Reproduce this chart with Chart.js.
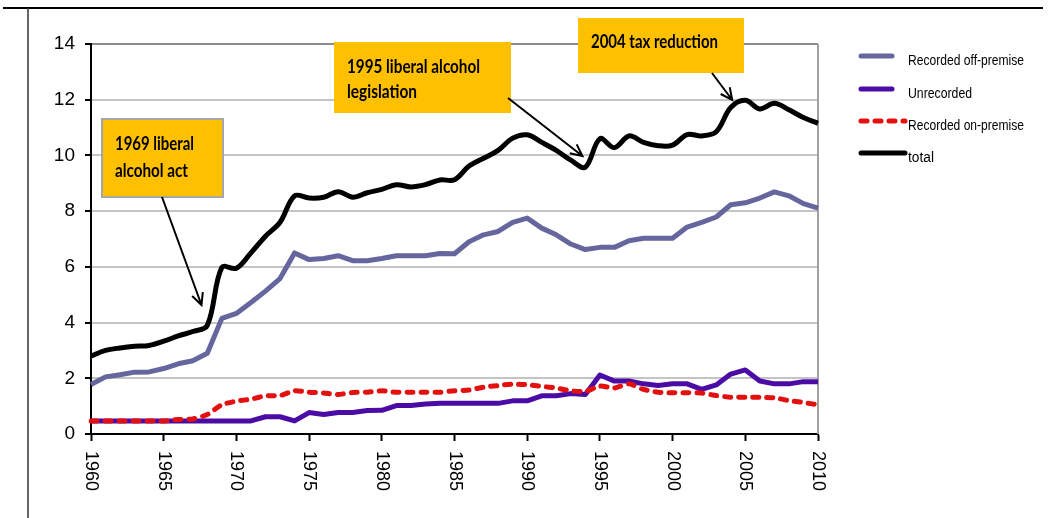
<!DOCTYPE html>
<html>
<head>
<meta charset="utf-8">
<script src="https://cdn.jsdelivr.net/npm/chart.js@4.4.1/dist/chart.umd.min.js"></script>
<style>
  html, body { margin: 0; padding: 0; background: #fff; }
  #chart { display: block; }
</style>
</head>
<body>
<canvas id="chart" width="1050" height="518"></canvas>
<script>
// --- data (litres pure alcohol per capita) ---
const years = [
  1960, 1961, 1962, 1963, 1964, 1965, 1966, 1967, 1968, 1969,
  1970, 1971, 1972, 1973, 1974, 1975, 1976, 1977, 1978, 1979,
  1980, 1981, 1982, 1983, 1984, 1985, 1986, 1987, 1988, 1989,
  1990, 1991, 1992, 1993, 1994, 1995, 1996, 1997, 1998, 1999,
  2000, 2001, 2002, 2003, 2004, 2005, 2006, 2007, 2008, 2009, 2010
];

const offPremise = [
  1.78, 2.05, 2.13, 2.22, 2.23, 2.35, 2.52, 2.63, 2.90, 4.15,
  4.33, 4.72, 5.13, 5.58, 6.50, 6.26, 6.30, 6.40, 6.22, 6.22,
  6.30, 6.40, 6.40, 6.40, 6.48, 6.47, 6.90, 7.15, 7.27, 7.60,
  7.75, 7.39, 7.15, 6.82, 6.62, 6.70, 6.70, 6.94, 7.03, 7.03,
  7.03, 7.43, 7.60, 7.79, 8.23, 8.30, 8.47, 8.69, 8.55, 8.27, 8.11
];

const unrecorded = [
  0.47, 0.47, 0.47, 0.47, 0.47, 0.47, 0.47, 0.47, 0.47, 0.47,
  0.47, 0.47, 0.62, 0.62, 0.47, 0.77, 0.70, 0.77, 0.77, 0.84,
  0.85, 1.02, 1.02, 1.08, 1.10, 1.10, 1.10, 1.10, 1.10, 1.19,
  1.19, 1.37, 1.37, 1.45, 1.42, 2.12, 1.90, 1.90, 1.80, 1.74,
  1.80, 1.80, 1.60, 1.76, 2.15, 2.30, 1.90, 1.80, 1.80, 1.88, 1.88
];

const onPremise = [
  0.47, 0.47, 0.47, 0.47, 0.47, 0.47, 0.52, 0.54, 0.70, 1.05,
  1.18, 1.25, 1.37, 1.38, 1.55, 1.50, 1.47, 1.42, 1.49, 1.50,
  1.55, 1.50, 1.50, 1.50, 1.50, 1.55, 1.58, 1.68, 1.74, 1.79,
  1.77, 1.71, 1.65, 1.55, 1.53, 1.72, 1.65, 1.80, 1.60, 1.50,
  1.48, 1.48, 1.47, 1.38, 1.32, 1.32, 1.32, 1.30, 1.20, 1.13, 1.05
];

const total = [
  2.80, 3.00, 3.09, 3.15, 3.18, 3.33, 3.52, 3.68, 3.90, 5.98,
  5.95, 6.50, 7.10, 7.60, 8.55, 8.47, 8.50, 8.70, 8.50, 8.66,
  8.78, 8.95, 8.87, 8.95, 9.12, 9.13, 9.62, 9.90, 10.18, 10.62,
  10.74, 10.47, 10.18, 9.83, 9.58, 10.60, 10.28, 10.70, 10.47, 10.35,
  10.37, 10.75, 10.70, 10.85, 11.72, 11.98, 11.67, 11.87, 11.64, 11.36, 11.15
];

const seriesNames = ['Recorded off-premise', 'Unrecorded', 'Recorded on-premise', 'total'];
const xTickLabels = ['1960', '1965', '1970', '1975', '1980', '1985', '1990', '1995', '2000', '2005', '2010'];

// callout boxes; the arrow tip is given in data units (year, value)
const notes = [
  { lines: ['1969 liberal', 'alcohol act'], tipYear: 1967.6, tipValue: 4.63 },
  { lines: ['1995 liberal alcohol', 'legislation'], tipYear: 1993.8, tipValue: 9.98 },
  { lines: ['2004 tax reduction'], tipYear: 2004.1, tipValue: 11.99 }
];

// --- layout of the callouts (pixels) ---
const noteLayout = [
  { box: [102, 119, 121, 78], border: true, textX: 115, base: [150, 177], widths: [79, 73], from: [162, 197] },
  { box: [334, 42, 177, 71], border: false, textX: 347, base: [73, 98], widths: [133, 70], from: [508, 98] },
  { box: [578, 18, 166, 55], border: false, textX: 591, base: [48], widths: [127], from: [712, 73] }
];

function fitText(ctx, text, x, y, width) {
  const w = ctx.measureText(text).width;
  ctx.save();
  ctx.translate(x, y);
  ctx.scale(width / w, 1);
  ctx.fillText(text, 0, 0);
  ctx.restore();
}

function arrow(ctx, x1, y1, x2, y2) {
  const ang = Math.atan2(y2 - y1, x2 - x1);
  const head = 13, spread = 0.45;
  ctx.beginPath();
  ctx.moveTo(x1, y1);
  ctx.lineTo(x2, y2);
  ctx.moveTo(x2 - head * Math.cos(ang - spread), y2 - head * Math.sin(ang - spread));
  ctx.lineTo(x2, y2);
  ctx.lineTo(x2 - head * Math.cos(ang + spread), y2 - head * Math.sin(ang + spread));
  ctx.stroke();
}

const decorPlugin = {
  id: 'decor',
  beforeDraw(chart) {
    const ctx = chart.ctx;
    ctx.save();
    ctx.fillStyle = '#fff';
    ctx.fillRect(0, 0, chart.width, chart.height);
    // frame lines around the figure
    ctx.strokeStyle = '#000';
    ctx.lineWidth = 2;
    ctx.beginPath();
    ctx.moveTo(3, 8);
    ctx.lineTo(1043, 8);
    ctx.stroke();
    ctx.strokeStyle = '#333';
    ctx.lineWidth = 1.5;
    ctx.beginPath();
    ctx.moveTo(28, 8);
    ctx.lineTo(28, 518);
    ctx.stroke();
    ctx.restore();
  },
  beforeDatasetsDraw(chart) {
    const ctx = chart.ctx;
    const a = chart.chartArea;
    ctx.save();
    ctx.strokeStyle = '#a0a0a0';
    ctx.lineWidth = 2;
    ctx.beginPath();
    ctx.moveTo(a.right, a.top);
    ctx.lineTo(a.right, a.bottom);
    ctx.stroke();
    ctx.restore();
  },
  afterDraw(chart) {
    const ctx = chart.ctx;
    const xs = chart.scales.x;
    const ys = chart.scales.y;
    ctx.save();

    // rotated year labels (reading top to bottom)
    ctx.fillStyle = '#000';
    ctx.font = '18px "Liberation Sans", Arial, sans-serif';
    ctx.textAlign = 'left';
    ctx.textBaseline = 'middle';
    xTickLabels.forEach(lbl => {
      const x = xs.getPixelForValue(years.indexOf(Number(lbl)));
      ctx.save();
      ctx.translate(x, 451);
      ctx.rotate(Math.PI / 2);
      ctx.fillText(lbl, 0, 0);
      ctx.restore();
    });

    // legend
    const legendY = [56, 89, 121, 153];
    const sampleLen = [31, 31, 44, 44];
    const textW = [116, 64, 116, 26];
    ctx.font = '14px "Liberation Sans", Arial, sans-serif';
    ctx.textBaseline = 'alphabetic';
    chart.data.datasets.forEach((ds, i) => {
      const y = legendY[i];
      ctx.save();
      ctx.strokeStyle = ds.borderColor;
      ctx.lineWidth = 5;
      ctx.lineCap = 'round';
      ctx.setLineDash(ds.borderDash || []);
      ctx.beginPath();
      ctx.moveTo(861, y);
      ctx.lineTo(861 + sampleLen[i], y);
      ctx.stroke();
      ctx.restore();
      ctx.fillStyle = '#000';
      fitText(ctx, ds.label, 908, y + 9, textW[i]);
    });

    // callouts
    notes.forEach((n, i) => {
      const L = noteLayout[i];
      const [bx, by, bw, bh] = L.box;
      ctx.fillStyle = '#ffc000';
      ctx.fillRect(bx, by, bw, bh);
      if (L.border) {
        ctx.strokeStyle = '#a6a6a6';
        ctx.lineWidth = 2;
        ctx.strokeRect(bx, by, bw, bh);
      }
      ctx.fillStyle = '#000';
      ctx.font = 'bold 19px Lato, "Open Sans", sans-serif';
      n.lines.forEach((t, k) => fitText(ctx, t, L.textX, L.base[k], L.widths[k]));

      const tx = xs.getPixelForValue(n.tipYear - years[0]);
      const ty = ys.getPixelForValue(n.tipValue);
      ctx.strokeStyle = '#000';
      ctx.lineWidth = 2;
      arrow(ctx, L.from[0], L.from[1], tx, ty);
    });

    ctx.restore();
  }
};

const ctx = document.getElementById('chart');
new Chart(ctx, {
  type: 'line',
  data: {
    labels: years,
    datasets: [
      {
        label: seriesNames[0],
        data: offPremise,
        borderColor: '#66669e',
        borderWidth: 5,
        tension: 0,
        order: 3
      },
      {
        label: seriesNames[1],
        data: unrecorded,
        borderColor: '#4b0ca6',
        borderWidth: 5,
        tension: 0,
        order: 2
      },
      {
        label: seriesNames[2],
        data: onPremise,
        borderColor: '#e2100f',
        borderWidth: 5,
        borderDash: [6, 8],
        borderCapStyle: 'round',
        tension: 0.2,
        order: 1
      },
      {
        label: seriesNames[3],
        data: total,
        borderColor: '#000',
        borderWidth: 5,
        tension: 0.35,
        order: 0
      }
    ]
  },
  options: {
    responsive: false,
    animation: false,
    devicePixelRatio: 1,
    layout: { padding: { top: 44, left: 30, right: 232, bottom: 0 } },
    elements: {
      point: { radius: 0, hoverRadius: 0 },
      line: { borderJoinStyle: 'round' }
    },
    plugins: {
      legend: { display: false },
      tooltip: { enabled: false }
    },
    scales: {
      x: {
        type: 'category',
        offset: false,
        afterFit: s => { s.height = 84; },
        border: { color: '#000', width: 2 },
        grid: {
          drawOnChartArea: false,
          drawTicks: true,
          tickLength: 7,
          tickWidth: 2,
          tickColor: c => (c.tick && years[c.tick.value] % 5 === 0) ? '#000' : 'rgba(0,0,0,0)'
        },
        ticks: { display: false, autoSkip: false }
      },
      y: {
        min: 0,
        max: 14,
        afterFit: s => { s.width = 61; },
        border: { color: '#000', width: 2 },
        grid: {
          color: c => (c.tick && c.tick.value === 14) ? '#8c8c8c' : '#c4c4c4',
          lineWidth: 2,
          tickLength: 6,
          tickColor: '#000',
          tickWidth: 2
        },
        ticks: {
          stepSize: 2,
          padding: 10,
          color: '#000',
          font: { family: '"Liberation Sans", Arial, sans-serif', size: 19 }
        }
      }
    }
  },
  plugins: [decorPlugin]
});
</script>
</body>
</html>
